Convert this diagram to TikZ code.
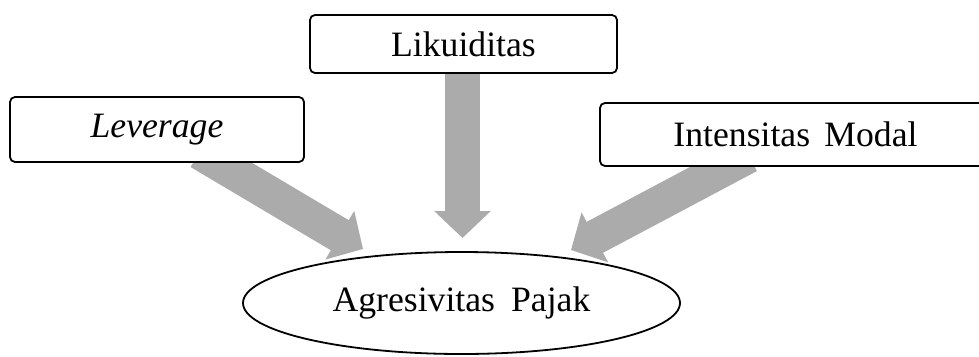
\documentclass[tikz,border=0pt]{standalone}
\usepackage{fontspec}
\setmainfont{Liberation Serif}
\usetikzlibrary{shapes.geometric,arrows.meta}
\definecolor{arrowgray}{HTML}{ABABAB}
\tikzset{
	varbox/.style={draw,line width=1.8bp,rounded corners=5bp,fill=white,inner sep=0pt},
	bigarrow/.style={draw=arrowgray,line width=35bp,-{Triangle[width=55bp,length=27bp]}}
}
\begin{document}
\begin{tikzpicture}[x=1bp,y=-1bp]
\fontsize{35.8}{40}\selectfont
\useasboundingbox (0,0) rectangle (979,356);
% tails and tips of the arrows
\coordinate (levtail) at (199.5,152);
\coordinate (levtip) at (363,249);
\coordinate (liqtail) at (462.5,60);
\coordinate (liqtip) at (462.5,238);
\coordinate (inttail) at (748.7,155.6);
\coordinate (inttip) at (571,250);
\foreach \v in {lev,liq,int}{
	\draw[bigarrow] (\v tail) -- (\v tip);}
\node[varbox,minimum width=294bp,minimum height=65bp] (lev) at (157,129.5) {\itshape Leverage};
\node[varbox,minimum width=307bp,minimum height=58bp] (liq) at (463.5,44) {Likuiditas};
\node[varbox,minimum width=395bp,minimum height=63bp] (int) at (797.5,134.5) {\hspace{-4bp}Intensitas\hspace{0.4em}Modal\hspace{4bp}};
\node[draw,ellipse,line width=1.8bp,minimum width=437bp,minimum height=102bp,inner sep=0pt] (agr) at (461.5,303) {Agresivitas\hspace{0.45em}Pajak};
\end{tikzpicture}
\end{document}
